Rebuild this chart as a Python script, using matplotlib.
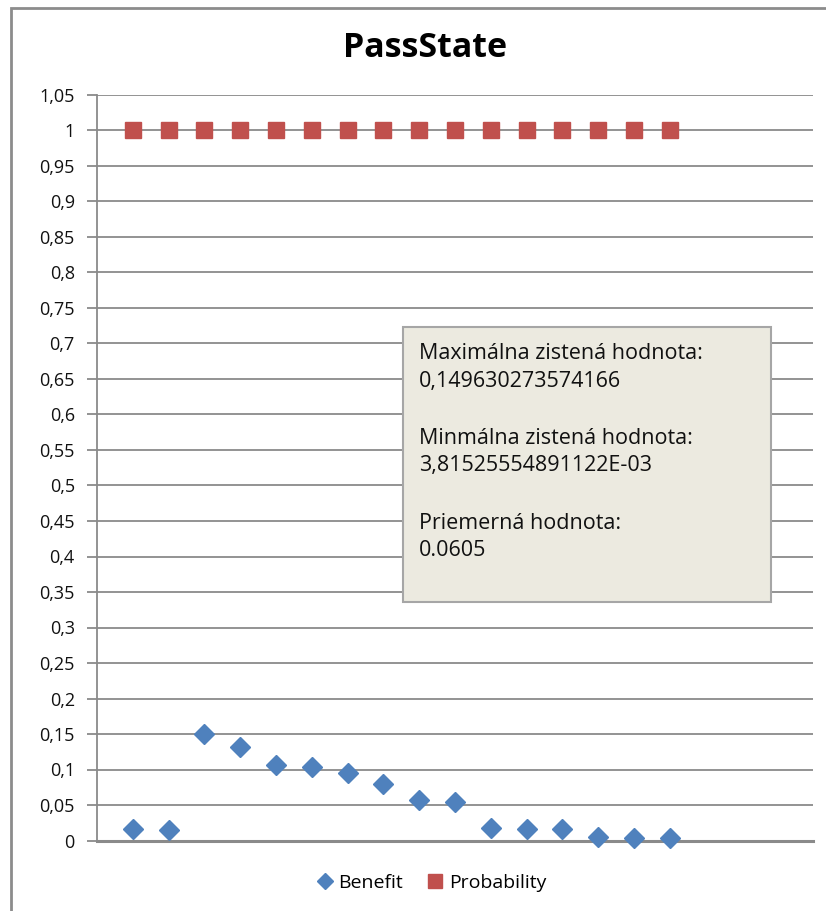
import matplotlib
matplotlib.use("Agg")
import matplotlib.pyplot as plt
from matplotlib.patches import Rectangle
from matplotlib.ticker import FixedLocator, FuncFormatter

plt.rcParams['font.family'] = ['Open Sans', 'DejaVu Sans']

x_vals = list(range(1, 17))
benefit = [0.016, 0.015, 0.1496, 0.132, 0.106, 0.103, 0.095, 0.080,
           0.057, 0.054, 0.017, 0.016, 0.016, 0.0055, 0.0038, 0.0038]
probability = [1.0] * 16
y_ticks = [i * 0.05 for i in range(22)]
title = "PassState"
box_lines = ["Maximálna zistená hodnota:", "0,149630273574166", "",
             "Minmálna zistená hodnota:", "3,81525554891122E-03", "",
             "Priemerná hodnota:", "0.0605"]

W, H = 826, 911
fig = plt.figure(figsize=(W / 100, H / 100), dpi=100)

# outer chart border
fig.patches.append(Rectangle((11 / W, -0.01), 1.02, (H - 8) / H + 0.01, transform=fig.transFigure,
                             fill=False, edgecolor='#8c8c8c', linewidth=2, zorder=0))

left, right = 97, 813
top, bottom = 95, 840.5
ax = fig.add_axes([left / W, 1 - bottom / H, (right - left) / W, (bottom - top) / H])
ax.set_xlim(0, 20)
ax.set_ylim(0, 1.05)

ax.yaxis.set_major_locator(FixedLocator(y_ticks))
ax.yaxis.set_major_formatter(FuncFormatter(lambda v, p: f"{v:.2f}".rstrip('0').rstrip('.').replace('.', ',')))
ax.grid(axis='y', color='#8a8a8a', linewidth=1.3)
ax.set_axisbelow(True)
ax.set_xticks([])
for s in ['top', 'right']:
    ax.spines[s].set_visible(False)
ax.spines['left'].set_color('#8a8a8a')
ax.spines['left'].set_linewidth(1.3)
ax.spines['bottom'].set_color('#8a8a8a')
ax.spines['bottom'].set_linewidth(2.2)
ax.tick_params(axis='y', length=7, width=1.3, color='#8a8a8a', labelsize=13, pad=9, labelcolor='#111111')

ax.plot(x_vals, benefit, linestyle='none', marker='D', markersize=10,
        color='#4F81BD', label='Benefit', clip_on=False, zorder=3)
ax.plot(x_vals, probability, linestyle='none', marker='s', markersize=11.5,
        color='#C0504D', label='Probability', clip_on=False, zorder=3)

fig.text(425 / W, 1 - 48 / H, title, ha='center', va='center', fontsize=24.5, fontweight='bold')

# info box
bx0, by0, bx1, by1 = 403, 327, 771, 602
fig.patches.append(Rectangle((bx0 / W, 1 - by1 / H), (bx1 - bx0) / W, (by1 - by0) / H,
                             transform=fig.transFigure, facecolor='#ECEAE0',
                             edgecolor='#a6a6a6', linewidth=1.5, zorder=5))
line_y = [351, 378.5, None, 436, 463.5, None, 521, 548.5]
for txt, yy in zip(box_lines, line_y):
    if yy is None:
        continue
    fig.text(419 / W, 1 - yy / H, txt, ha='left', va='center_baseline', fontsize=15.5,
             color='#111111', zorder=6)

leg = fig.legend(loc='center', bbox_to_anchor=(432 / W, 1 - 883 / H), ncol=2, frameon=False,
                 fontsize=14, handlelength=0.7, handletextpad=0.35, columnspacing=1.3,
                 markerscale=0.85)

fig.savefig('out.png', dpi=100)
